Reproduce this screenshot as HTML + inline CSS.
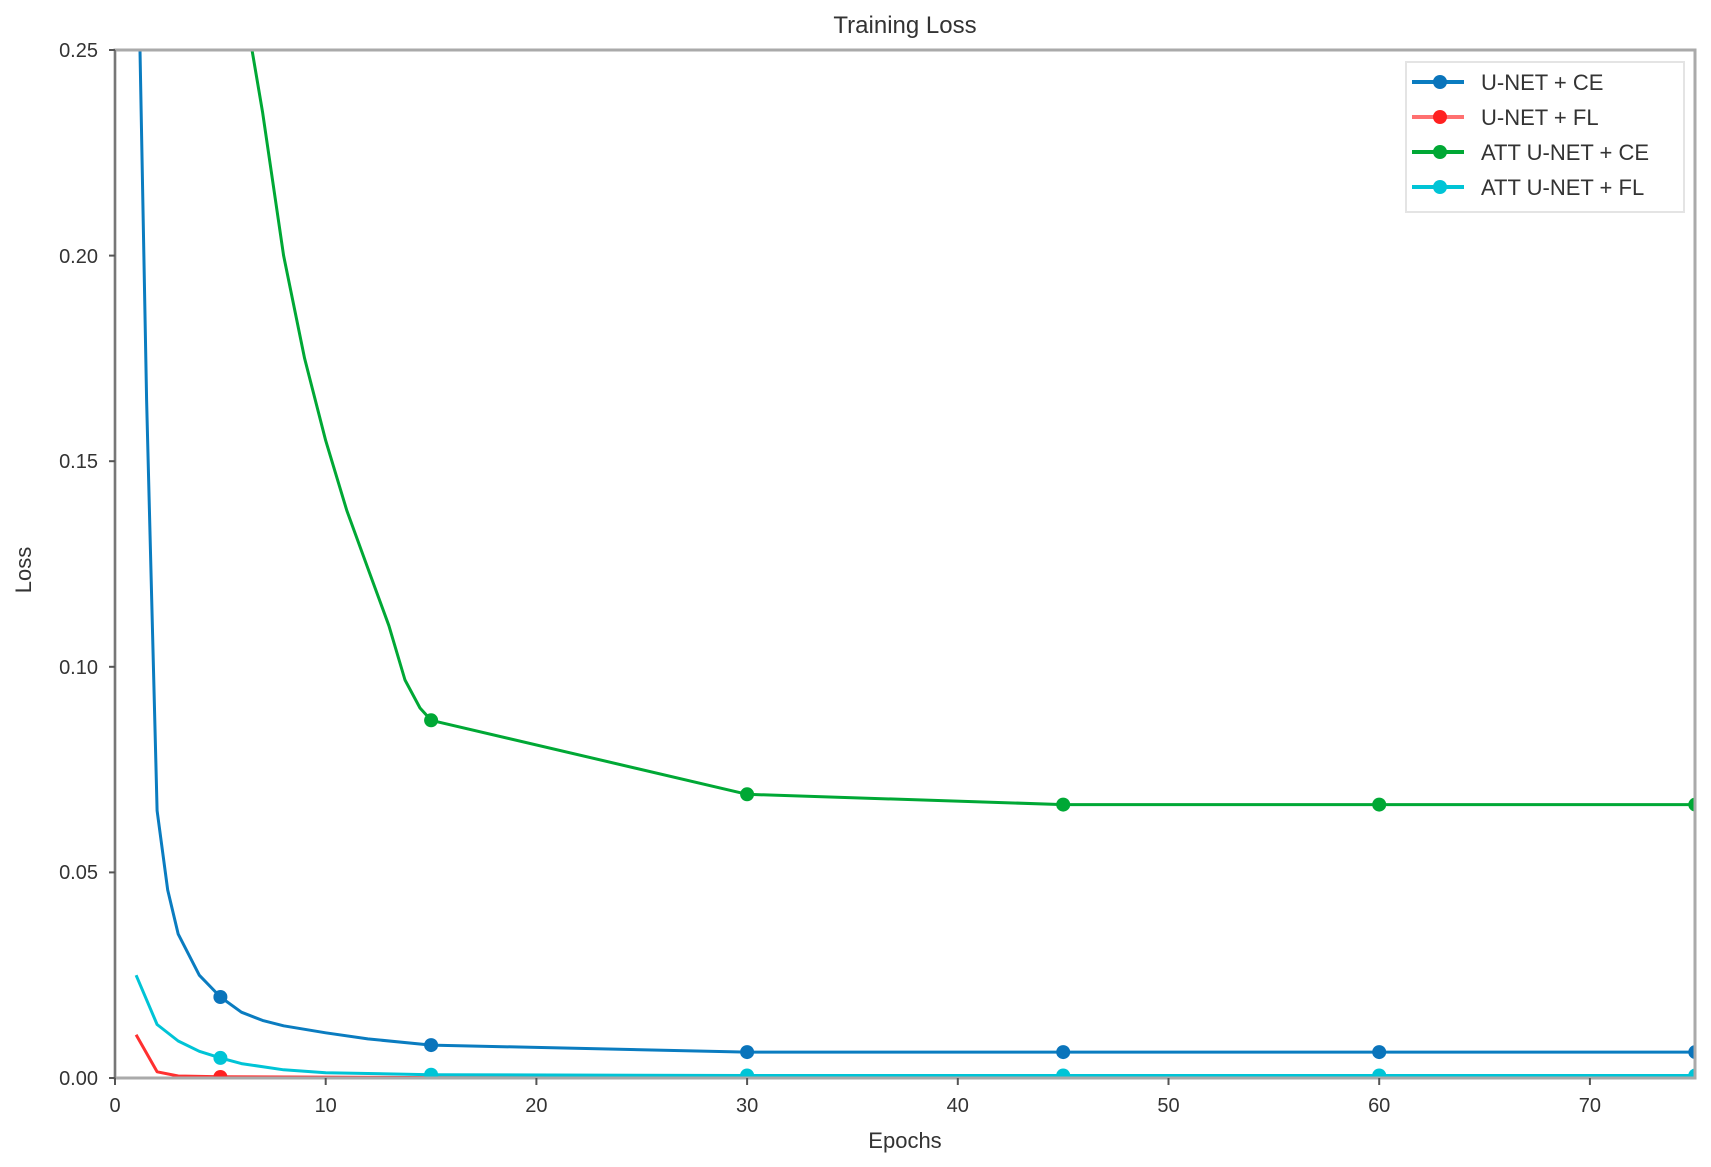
<!DOCTYPE html>
<html><head><meta charset="utf-8"><style>
body{margin:0;background:#fff}
text{font-family:"Liberation Sans","DejaVu Sans",sans-serif;fill:#333}
</style></head><body>
<svg width="1711" height="1162" viewBox="0 0 1711 1162" xmlns="http://www.w3.org/2000/svg">
<defs><clipPath id="c"><rect x="115" y="50" width="1580" height="1028"/></clipPath></defs>
<rect width="1711" height="1162" fill="#fff"/>
<text x="905" y="33" font-size="24" text-anchor="middle">Training Loss</text>
<g clip-path="url(#c)" fill="none" stroke-width="3" stroke-linejoin="round">
<polyline stroke="#00a835" points="220.4,-238 252,50 262.5,111.7 283.6,255.6 304.6,358.4 325.7,440.6 346.8,510.5 367.8,568.1 388.9,625.7 405,680 420,708 431.1,720.3 747.1,794.3 1063.2,804.6 1379.2,804.6 1695.3,804.6"/>
<polyline stroke="#ff3030" points="136.1,1034.8 157.1,1071.8 178.2,1076 220.4,1076.8 431.1,1077.6 1695.3,1077.6"/>
<polyline stroke="#00c4d6" points="136.1,975.2 157.1,1024.5 178.2,1041 199.3,1051.3 220.4,1057.9 241.4,1063.6 283.6,1069.8 325.7,1072.7 431.1,1074.7 747.1,1075.5 1695.3,1075.5"/>
<polyline stroke="#0a7cc0" points="136.1,-156 146.6,400 157.1,810.7 167.7,890 178.2,934.1 199.3,975.2 220.4,997 241.4,1012.2 262.5,1020.4 283.6,1025.8 325.7,1032.8 367.8,1038.9 431.1,1045.1 747.1,1052.1 1063.2,1052.1 1379.2,1052.1 1695.3,1052.1"/>
<g fill="#00a835" stroke="none"><circle cx="431.1" cy="720.3" r="7"/><circle cx="747.1" cy="794.3" r="7"/><circle cx="1063.2" cy="804.6" r="7"/><circle cx="1379.2" cy="804.6" r="7"/><circle cx="1695.3" cy="804.6" r="7"/></g>
<g fill="#0a74bb" stroke="none"><circle cx="220.4" cy="997" r="7"/><circle cx="431.1" cy="1045.1" r="7"/><circle cx="747.1" cy="1052.1" r="7"/><circle cx="1063.2" cy="1052.1" r="7"/><circle cx="1379.2" cy="1052.1" r="7"/><circle cx="1695.3" cy="1052.1" r="7"/></g>
<g fill="#00c4d6" stroke="none"><circle cx="220.4" cy="1057.9" r="7"/><circle cx="431.1" cy="1074.7" r="7"/><circle cx="747.1" cy="1075.5" r="7"/><circle cx="1063.2" cy="1075.5" r="7"/><circle cx="1379.2" cy="1075.5" r="7"/><circle cx="1695.3" cy="1075.5" r="7"/></g>
<g fill="#ff2020" stroke="none"><circle cx="220.4" cy="1077" r="7"/></g>
</g>
<line x1="115" y1="1078" x2="1695" y2="1078" stroke="#8a2a2a" stroke-width="3"/>
<rect x="115" y="50" width="1580" height="1028" fill="none" stroke="#aaa" stroke-width="3"/>
<line x1="115" y1="50" x2="115" y2="1080" stroke="#777" stroke-width="2"/>
<g stroke="#555" stroke-width="2">
<line x1="109" y1="1078" x2="115" y2="1078"/><line x1="109" y1="872.4" x2="115" y2="872.4"/><line x1="109" y1="666.8" x2="115" y2="666.8"/><line x1="109" y1="461.2" x2="115" y2="461.2"/><line x1="109" y1="255.6" x2="115" y2="255.6"/><line x1="109" y1="50" x2="115" y2="50"/>
<line x1="115" y1="1078" x2="115" y2="1085"/><line x1="325.7" y1="1078" x2="325.7" y2="1085"/><line x1="536.4" y1="1078" x2="536.4" y2="1085"/><line x1="747.1" y1="1078" x2="747.1" y2="1085"/><line x1="957.8" y1="1078" x2="957.8" y2="1085"/><line x1="1168.5" y1="1078" x2="1168.5" y2="1085"/><line x1="1379.2" y1="1078" x2="1379.2" y2="1085"/><line x1="1589.9" y1="1078" x2="1589.9" y2="1085"/>
</g>
<g font-size="20" text-anchor="end">
<text x="98" y="1085">0.00</text><text x="98" y="879">0.05</text><text x="98" y="674">0.10</text><text x="98" y="468">0.15</text><text x="98" y="263">0.20</text><text x="98" y="57">0.25</text>
</g>
<g font-size="20" text-anchor="middle">
<text x="115" y="1112">0</text><text x="325.7" y="1112">10</text><text x="536.4" y="1112">20</text><text x="747.1" y="1112">30</text><text x="957.8" y="1112">40</text><text x="1168.5" y="1112">50</text><text x="1379.2" y="1112">60</text><text x="1589.9" y="1112">70</text>
</g>
<text x="905" y="1148" font-size="22" text-anchor="middle">Epochs</text>
<text transform="translate(31,570) rotate(-90)" font-size="22" text-anchor="middle">Loss</text>
<rect x="1406" y="62" width="278" height="150" fill="#fff" stroke="#e4e4e4" stroke-width="2"/>
<g stroke-width="4">
<line x1="1412" y1="82" x2="1464" y2="82" stroke="#0a7cc0"/><circle cx="1440" cy="82" r="7" fill="#0a74bb"/>
<line x1="1412" y1="117" x2="1464" y2="117" stroke="#ff7070"/><circle cx="1440" cy="117" r="7" fill="#ff2020"/>
<line x1="1412" y1="152" x2="1464" y2="152" stroke="#00a835"/><circle cx="1440" cy="152" r="7" fill="#00a835"/>
<line x1="1412" y1="187" x2="1464" y2="187" stroke="#00c4d6"/><circle cx="1440" cy="187" r="7" fill="#00c4d6"/>
</g>
<g font-size="22">
<text x="1481" y="90">U-NET + CE</text><text x="1481" y="125">U-NET + FL</text><text x="1481" y="160">ATT U-NET + CE</text><text x="1481" y="195">ATT U-NET + FL</text>
</g>
</svg>
</body></html>
